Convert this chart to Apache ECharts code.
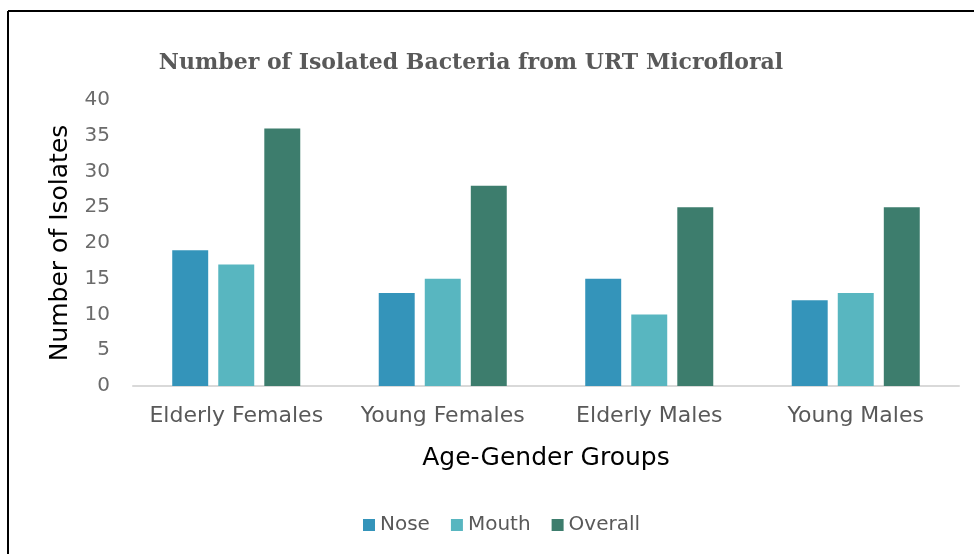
<!DOCTYPE html>
<html>
<head>
<meta charset="utf-8">
<script src="https://cdn.jsdelivr.net/npm/echarts@6/dist/echarts.min.js"></script>
<style>
  html, body { margin: 0; padding: 0; background: #fff; }
  #main { width: 974px; height: 554px; }
</style>
</head>
<body>
<div id="main"></div>
<script>
var groups = ['Elderly Females', 'Young Females', 'Elderly Males', 'Young Males'];
var nose = [19, 13, 15, 12];
var mouth = [17, 15, 10, 13];
var overall = [36, 28, 25, 25];

var myChart = echarts.init(document.getElementById('main'));

var sansFont = '"DejaVu Sans", sans-serif';

var option = {
  color: ['#3494BA', '#58B6C0', '#3D7D6D'],
  animation: false,
  title: {
    text: 'Number of Isolated Bacteria from URT Microfloral',
    left: 466,
    textAlign: 'center',
    top: 47,
    textStyle: {
      fontFamily: '"DejaVu Serif", serif',
      fontWeight: 'bold',
      fontSize: 22,
      color: '#595959'
    }
  },
  graphic: [
    // frame lines (top and left edge of the chart box)
    { type: 'line', shape: { x1: 8, y1: 11, x2: 974, y2: 11 }, style: { stroke: '#000', lineWidth: 2 } },
    { type: 'line', shape: { x1: 8, y1: 11, x2: 8, y2: 554 }, style: { stroke: '#000', lineWidth: 2 } }
  ],
  legend: {
    data: ['Nose', 'Mouth', 'Overall'],
    left: 358,
    top: 510,
    icon: 'rect',
    itemWidth: 12,
    itemHeight: 12,
    itemGap: 21,
    textStyle: { fontFamily: sansFont, fontSize: 20, color: '#595959' }
  },
  grid: { left: 133, right: 15, top: 100, bottom: 168 },
  xAxis: {
    type: 'category',
    data: groups,
    axisLine: { lineStyle: { color: '#D9D9D9', width: 2 } },
    axisTick: { show: false },
    axisLabel: { interval: 0, fontFamily: sansFont, fontSize: 22, color: '#595959', margin: 19 },
    name: 'Age-Gender Groups',
    nameLocation: 'middle',
    nameGap: 60,
    nameTextStyle: { fontFamily: sansFont, fontSize: 25, color: '#000' }
  },
  yAxis: {
    type: 'value',
    min: 0,
    max: 40,
    interval: 5,
    axisLine: { show: false },
    axisTick: { show: false },
    splitLine: { show: false },
    axisLabel: { fontFamily: sansFont, fontSize: 20, color: '#6b6b6b', margin: 23 },
    name: 'Number of Isolates',
    nameLocation: 'middle',
    nameGap: 60,
    nameTextStyle: { fontFamily: sansFont, fontSize: 25, color: '#000' }
  },
  series: [
    { name: 'Nose', type: 'bar', data: nose, barGap: '28%', barCategoryGap: '38%' },
    { name: 'Mouth', type: 'bar', data: mouth },
    { name: 'Overall', type: 'bar', data: overall }
  ]
};

myChart.setOption(option);
</script>
</body>
</html>
